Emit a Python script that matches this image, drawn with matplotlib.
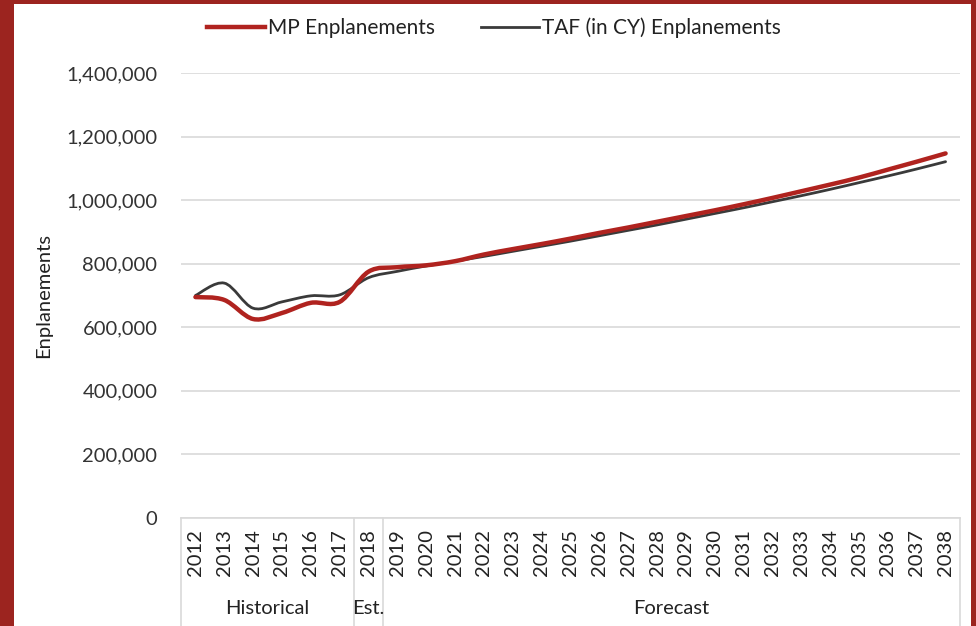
import numpy as np
import matplotlib
matplotlib.use("Agg")
from matplotlib import pyplot as plt
from matplotlib.path import Path
from matplotlib.patches import PathPatch, Rectangle
from matplotlib.lines import Line2D

years = [str(y) for y in range(2012, 2039)]

# enplanements
mp_enpl = [695000, 686000, 626000, 645000, 677000, 680000, 775000, 789000, 795000,
           808000, 829000, 846000, 862000, 879000, 897000, 914000, 932000, 950000,
           968000, 987000, 1007000, 1028000, 1049000, 1071000, 1096000, 1121000, 1147000]
taf_enpl = [700000, 739000, 660000, 680000, 699000, 702000, 756000, 776000, 793000,
            808000, 823000, 839000, 855000, 871000, 888000, 905000, 922000, 940000,
            958000, 976000, 995000, 1014000, 1034000, 1055000, 1076000, 1098000, 1121000]

groups = ["Historical", "Est.", "Forecast"]
group_bounds = [(-0.5, 5.5), (5.5, 6.5), (6.5, 26.5)]

FONT = "Lato"
plt.rcParams['font.family'] = [FONT, 'DejaVu Sans']


def smooth_path(xs, ys):
    # excel style smoothed line (catmull-rom as bezier)
    pts = np.column_stack([xs, ys]).astype(float)
    n = len(pts)
    verts = [pts[0]]
    codes = [Path.MOVETO]
    for i in range(n - 1):
        p0 = pts[i - 1] if i > 0 else pts[i]
        p1 = pts[i]
        p2 = pts[i + 1]
        p3 = pts[i + 2] if i + 2 < n else pts[i + 1]
        c1 = p1 + (p2 - p0) / 6.0
        c2 = p2 - (p3 - p1) / 6.0
        verts += [c1, c2, p2]
        codes += [Path.CURVE4] * 3
    return Path(verts, codes)


fig = plt.figure(figsize=(9.76, 6.26), dpi=100)
fig.patch.set_facecolor("#9c241f")
fig.patches.append(Rectangle((14 / 976, 0), (971 - 14) / 976, (626 - 4) / 626,
                             transform=fig.transFigure, facecolor="white",
                             edgecolor="none", zorder=-10))

ax = fig.add_axes([181 / 976, 108 / 626, (960 - 181) / 976, (518 - 73) / 626])
ax.set_facecolor("none")
x = np.arange(len(years))

ax.add_patch(PathPatch(smooth_path(x, taf_enpl), facecolor="none",
                       edgecolor="#3a3a3a", lw=2.0, zorder=3, capstyle="round"))
ax.add_patch(PathPatch(smooth_path(x, mp_enpl), facecolor="none",
                       edgecolor="#b0231f", lw=3.2, zorder=4, capstyle="round"))

ax.set_xlim(-0.5, len(years) - 0.5)
ax.set_ylim(0, 1400000)
ax.set_yticks(np.arange(0, 1400001, 200000))
ax.set_yticklabels(["{:,}".format(v) for v in range(0, 1400001, 200000)],
                   fontsize=14.5, color="#333333")
ax.set_xticks(x)
ax.set_xticklabels(years, rotation=90, fontsize=14.5, color="#222222")
ax.tick_params(axis="y", length=0, pad=17)
ax.tick_params(axis="x", length=0, pad=8)
for s in ax.spines.values():
    s.set_visible(False)
ax.grid(axis="y", color="#d9d9d9", lw=1.2)
ax.set_axisbelow(True)

ax.set_ylabel("Enplanements", fontsize=14.5, color="#222222")
ax.yaxis.set_label_coords(-0.166, 0.5)

# category box under the axis
trans = ax.get_xaxis_transform()
ax.plot([-0.5, len(years) - 0.5], [0, 0], transform=trans, color="#d9d9d9",
        lw=1.2, clip_on=False)
for b in [-0.5, 5.5, 6.5, len(years) - 0.5]:
    ax.plot([b, b], [0, -0.25], transform=trans, color="#d9d9d9", lw=1.2,
            clip_on=False)
for name, (a, b) in zip(groups, group_bounds):
    ax.text((a + b) / 2, -0.204, name, transform=trans, ha="center", va="center",
            fontsize=14.5, color="#222222")

handles = [Line2D([], [], color="#b0231f", lw=3.2),
           Line2D([], [], color="#3a3a3a", lw=2.0)]
fig.legend(handles, ["MP Enplanements", "TAF (in CY) Enplanements"],
           loc="center", bbox_to_anchor=(494 / 976, 1 - 28 / 626), ncol=2,
           frameon=False, fontsize=15, handlelength=2.8, handletextpad=0.15,
           columnspacing=2.2, labelcolor="#222222")

fig.savefig("out.png", dpi=100, facecolor=fig.get_facecolor())
